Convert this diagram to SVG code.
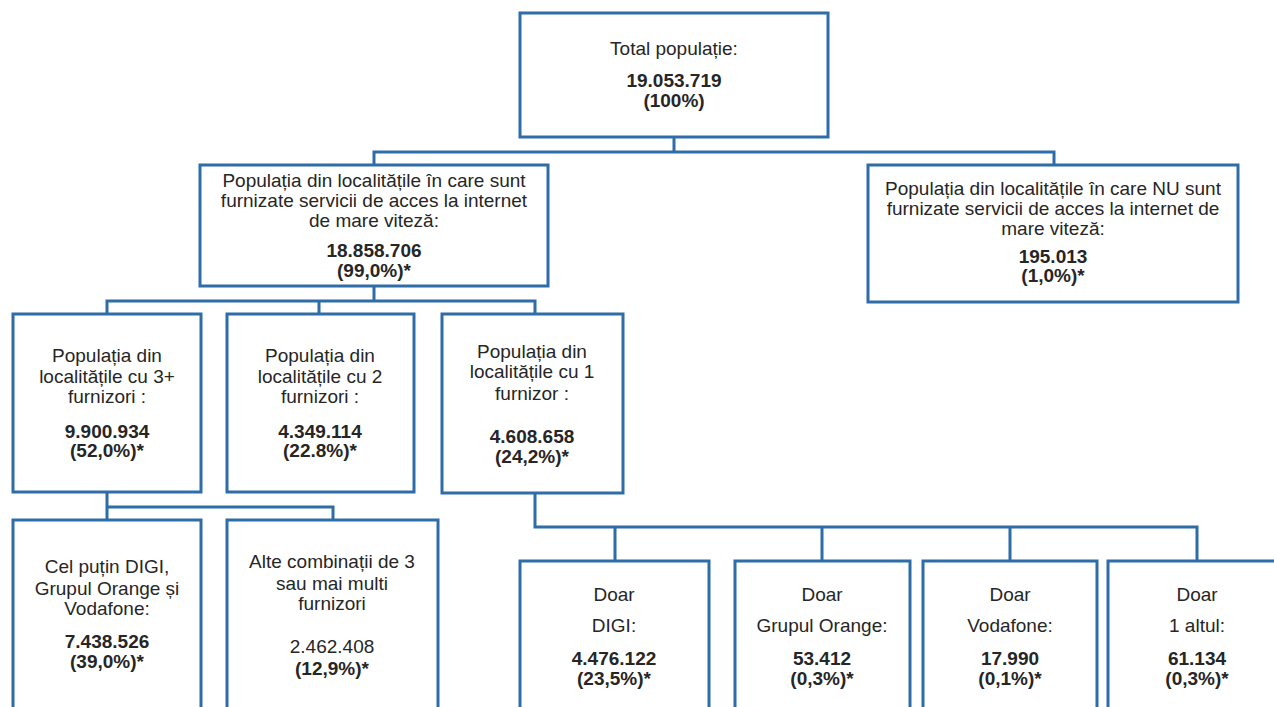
<svg xmlns="http://www.w3.org/2000/svg" width="1274" height="707" viewBox="0 0 1274 707">
<style>
.box{fill:#ffffff;stroke:#2e6da8;stroke-width:3}
.con{fill:none;stroke:#2e6da8;stroke-width:3}
text{font-family:"Liberation Sans",Arial,sans-serif;font-size:19px;fill:#262626;text-anchor:middle}
.b{font-weight:bold}
</style>
<rect width="1274" height="707" fill="#ffffff"/>
<g id="connectors">
<path class="con" d="M674,137V152M374,165V152H1054V165"/>
<path class="con" d="M374,286V301M107,314V301H535V314M319,301V314"/>
<path class="con" d="M107,492V520M107,507H333V520"/>
<path class="con" d="M535,493V527H1197V561M615,527V561M822,527V561M1010,527V561"/>
</g>
<g id="n-total">
<rect class="box" x="520" y="13" width="308" height="124"/>
<text x="674" y="55">Total populație:</text>
<text class="b" x="674" y="87">19.053.719</text>
<text class="b" x="674" y="107">(100%)</text>
</g>
<g id="n-cu-acces">
<rect class="box" x="200" y="165" width="348" height="121"/>
<text x="374" y="187">Populația din localitățile în care sunt</text>
<text x="374" y="207">furnizate servicii de acces la internet</text>
<text x="374" y="227">de mare viteză:</text>
<text class="b" x="374" y="257">18.858.706</text>
<text class="b" x="374" y="277">(99,0%)*</text>
</g>
<g id="n-fara-acces">
<rect class="box" x="868" y="165" width="370" height="137"/>
<text x="1053" y="195">Populația din localitățile în care NU sunt</text>
<text x="1053" y="215">furnizate servicii de acces la internet de</text>
<text x="1053" y="235">mare viteză:</text>
<text class="b" x="1053" y="263">195.013</text>
<text class="b" x="1053" y="282">(1,0%)*</text>
</g>
<g id="n-3plus">
<rect class="box" x="13" y="314" width="188" height="178"/>
<text x="107" y="362">Populația din</text>
<text x="107" y="383">localitățile cu 3+</text>
<text x="107" y="403">furnizori :</text>
<text class="b" x="107" y="438">9.900.934</text>
<text class="b" x="107" y="457">(52,0%)*</text>
</g>
<g id="n-2">
<rect class="box" x="227" y="314" width="187" height="178"/>
<text x="320" y="362">Populația din</text>
<text x="320" y="383">localitățile cu 2</text>
<text x="320" y="403">furnizori :</text>
<text class="b" x="320" y="438">4.349.114</text>
<text class="b" x="320" y="457">(22.8%)*</text>
</g>
<g id="n-1">
<rect class="box" x="442" y="314" width="181" height="179"/>
<text x="532" y="358">Populația din</text>
<text x="532" y="378">localitățile cu 1</text>
<text x="532" y="400">furnizor :</text>
<text class="b" x="532" y="443">4.608.658</text>
<text class="b" x="532" y="463">(24,2%)*</text>
</g>
<g id="n-digi-orange-vodafone">
<rect class="box" x="13" y="520" width="188" height="200"/>
<text x="107" y="573">Cel puțin DIGI,</text>
<text x="107" y="595">Grupul Orange și</text>
<text x="107" y="615">Vodafone:</text>
<text class="b" x="107" y="648">7.438.526</text>
<text class="b" x="107" y="668">(39,0%)*</text>
</g>
<g id="n-alte">
<rect class="box" x="227" y="520" width="211" height="200"/>
<text x="332" y="568">Alte combinații de 3</text>
<text x="332" y="590">sau mai multi</text>
<text x="332" y="610">furnizori</text>
<text x="332" y="653">2.462.408</text>
<text class="b" x="332" y="675">(12,9%)*</text>
</g>
<g id="n-digi">
<rect class="box" x="520" y="561" width="189" height="160"/>
<text x="614" y="601">Doar</text>
<text x="614" y="632">DIGI:</text>
<text class="b" x="614" y="665">4.476.122</text>
<text class="b" x="614" y="685">(23,5%)*</text>
</g>
<g id="n-orange">
<rect class="box" x="735" y="561" width="175" height="160"/>
<text x="822" y="601">Doar</text>
<text x="822" y="632">Grupul Orange:</text>
<text class="b" x="822" y="665">53.412</text>
<text class="b" x="822" y="685">(0,3%)*</text>
</g>
<g id="n-vodafone">
<rect class="box" x="923" y="561" width="174" height="160"/>
<text x="1010" y="601">Doar</text>
<text x="1010" y="632">Vodafone:</text>
<text class="b" x="1010" y="665">17.990</text>
<text class="b" x="1010" y="685">(0,1%)*</text>
</g>
<g id="n-altul">
<rect class="box" x="1108" y="561" width="178" height="160"/>
<text x="1197" y="601">Doar</text>
<text x="1197" y="632">1 altul:</text>
<text class="b" x="1197" y="665">61.134</text>
<text class="b" x="1197" y="685">(0,3%)*</text>
</g>
</svg>
